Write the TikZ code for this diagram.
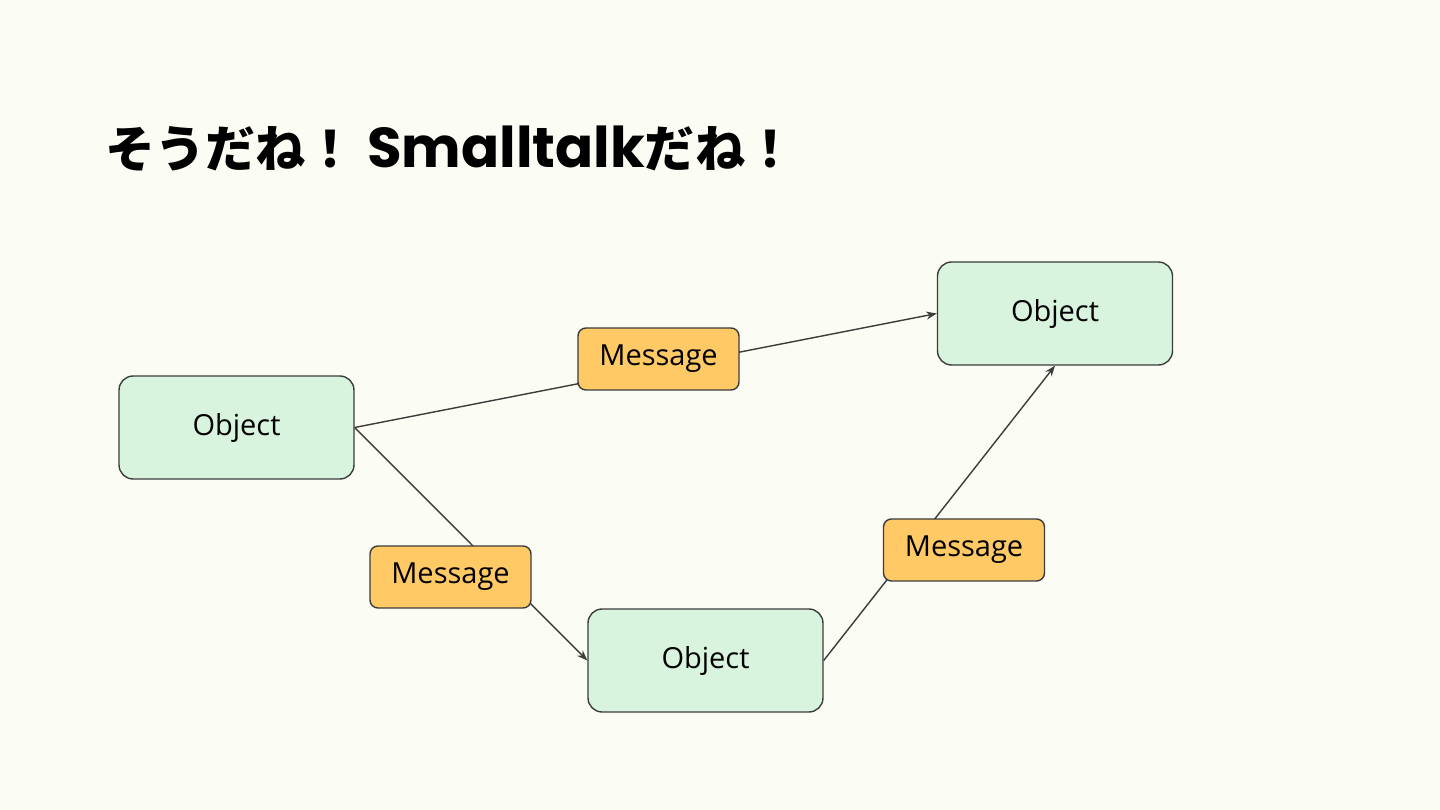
\documentclass[tikz,border=0pt]{standalone}
\usepackage{fontspec}
\setmainfont{Open Sans}
\newfontfamily\jpfont{Noto Sans CJK JP}
\newfontfamily\titlefont{Poppins}
\usetikzlibrary{arrows.meta}
\definecolor{bg_color}{HTML}{FBFCF3}
\definecolor{obj_fill}{HTML}{D8F3DE}
\definecolor{msg_fill}{HTML}{FFC966}
\definecolor{edge_color}{HTML}{3C3C3C}
\tikzset{
  box_node/.style = {align=center, inner sep=0pt, text centered,
    draw=edge_color, line width=0.8pt, font=\fontsize{16.5}{19}\selectfont},
  obj_node/.style = {box_node, rectangle, rounded corners=8pt, fill=obj_fill,
    minimum width=4.7cm, minimum height=2.06cm},% objet
  msg_node/.style = {box_node, rectangle, rounded corners=4.5pt, fill=msg_fill,
    minimum width=3.22cm, minimum height=1.24cm},% message
  send_edge/.style = {draw=edge_color, line width=0.8pt,
    -{Stealth[length=6pt, width=4.5pt]}}
}
\begin{document}
\begin{tikzpicture}[x=0.02cm, y=-0.02cm]
  \fill [bg_color] (0,0) rectangle (1440,810);
  \useasboundingbox (0,0) rectangle (1440,810);
  \node [anchor=base west, inner sep=0pt, font=\bfseries] (title) at (105,168)
    {\fontsize{28.5}{34}\selectfont\jpfont そうだね！ \fontsize{32}{38}\selectfont\titlefont Smalltalk\fontsize{28.5}{34}\selectfont\jpfont だね！};
  % objets
  \node [obj_node] (obj1) at (236.5,427.5) {Object};
  \node [obj_node] (obj2) at (1055,313.5) {Object};
  \node [obj_node] (obj3) at (705.5,660.5) {Object};
  % envois
  \draw [send_edge] (obj1.east) -- (obj2.west);
  \draw [send_edge] (obj1.east) -- (obj3.west);
  \draw [send_edge] (obj3.east) -- (obj2.south);
  % messages
  \node [msg_node] (msg1) at (658.5,359) {Message};
  \node [msg_node] (msg2) at (450.5,577) {Message};
  \node [msg_node] (msg3) at (964,550) {Message};
\end{tikzpicture}
\end{document}
